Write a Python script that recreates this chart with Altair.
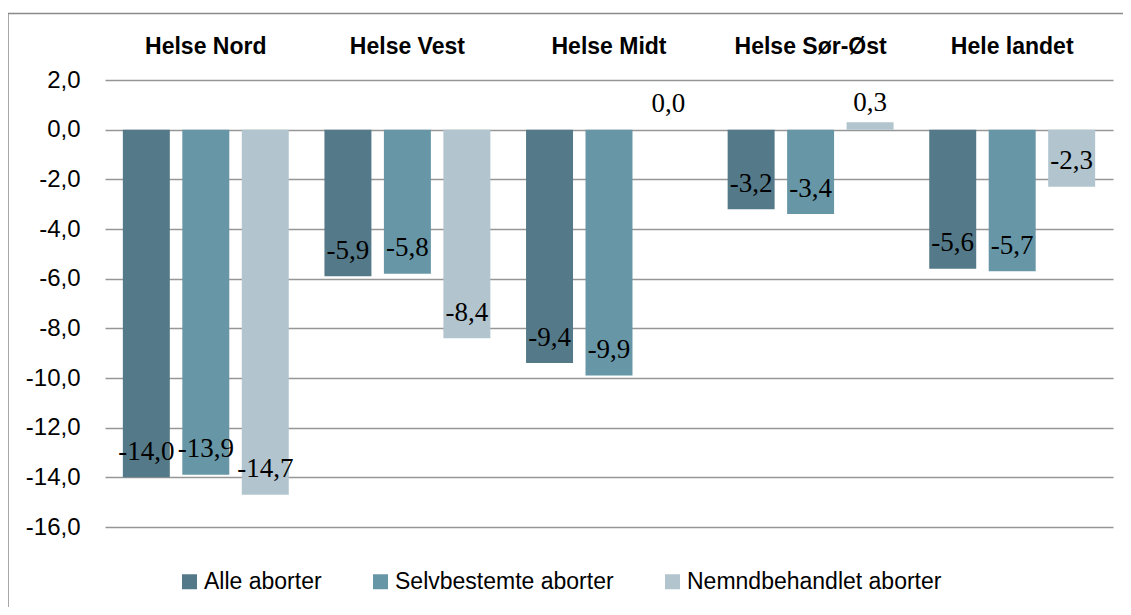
import altair as alt
import pandas as pd

regions = ["Helse Nord", "Helse Vest", "Helse Midt", "Helse Sør-Øst", "Hele landet"]
series = ["Alle aborter", "Selvbestemte aborter", "Nemndbehandlet aborter"]
alle = [-14.0, -5.9, -9.4, -3.2, -5.6]
selv = [-13.9, -5.8, -9.9, -3.4, -5.7]
nemnd = [-14.7, -8.4, 0.0, 0.3, -2.3]
colors = ["#547a89", "#6797a7", "#b2c5cf"]
y_ticks = list(range(-16, 3, 2))

rows = []
for s, vals in zip(series, [alle, selv, nemnd]):
    for r, v in zip(regions, vals):
        rows.append({"region": r, "series": s, "value": v})
df = pd.DataFrame(rows)

W, H = 1008, 447
fmt = "replace(replace(format(datum.value, '.1f'), '.', ','), '\u2212', '-')"

x = alt.X(
    "region:N", sort=regions,
    scale=alt.Scale(paddingInner=0.177, paddingOuter=0.0885),
    axis=alt.Axis(orient="top", title=None, domain=False, ticks=False, tickSize=0,
                  grid=False, labelAngle=0, labelFont="Liberation Sans",
                  labelFontWeight="bold", labelFontSize=23, labelColor="#000",
                  labelPadding=22),
)
xo = alt.XOffset("series:N", sort=series,
                 scale=alt.Scale(paddingInner=0.21, paddingOuter=0))
y = alt.Y(
    "value:Q",
    scale=alt.Scale(domain=[-16, 2], nice=False, zero=False),
    axis=alt.Axis(values=y_ticks, title=None, domain=False, ticks=False, tickSize=0,
                  labelExpr=fmt, labelFont="Liberation Sans", labelFontSize=24,
                  labelColor="#000", labelPadding=25, grid=True,
                  gridColor="#969696", gridWidth=1.5),
)
color = alt.Color(
    "series:N", sort=series,
    scale=alt.Scale(domain=series, range=colors),
    legend=alt.Legend(title=None, orient="none", direction="horizontal",
                      legendX=73, legendY=490, symbolType="square",
                      symbolSize=225, symbolStrokeWidth=0, padding=0,
                      labelFont="Liberation Sans", labelFontSize=23, labelLimit=0,
                      labelColor="#000", labelOffset=3, columnPadding=47),
)

base = alt.Chart(df)
bars = base.mark_bar().encode(x=x, xOffset=xo, y=y, y2=alt.datum(0), color=color)

lbl_expr = "replace(replace(format(datum.value, '.1f'), '.', ','), '\u2212', '-')"
labels_neg = base.transform_filter("datum.value <= 0").transform_calculate(
    lbl=lbl_expr
).mark_text(dy=-25.5, font="Liberation Serif", fontSize=27, color="#000",
            baseline="middle", align="center").encode(
    x=x, xOffset=xo, y=y, text="lbl:N")
labels_pos = base.transform_filter("datum.value > 0").transform_calculate(
    lbl=lbl_expr
).mark_text(dy=-19, font="Liberation Serif", fontSize=27, color="#000",
            baseline="middle", align="center").encode(
    x=x, xOffset=xo, y=y, text="lbl:N")

border = alt.Chart(pd.DataFrame({"a": [0]})).mark_rect(
    fill="transparent", stroke="#8a8a8a", strokeWidth=1.5
).encode(x=alt.value(-97), x2=alt.value(1200), y=alt.value(-66.5), y2=alt.value(800))

chart = alt.layer(border, bars, labels_neg, labels_pos).properties(
    width=W, height=H,
    padding={"left": 97, "top": 72, "right": 10, "bottom": 80},
    autosize=alt.AutoSizeParams(type="none"),
).configure_view(stroke=None)

chart.save("out.html", embed_options={"renderer": "svg", "actions": False})
